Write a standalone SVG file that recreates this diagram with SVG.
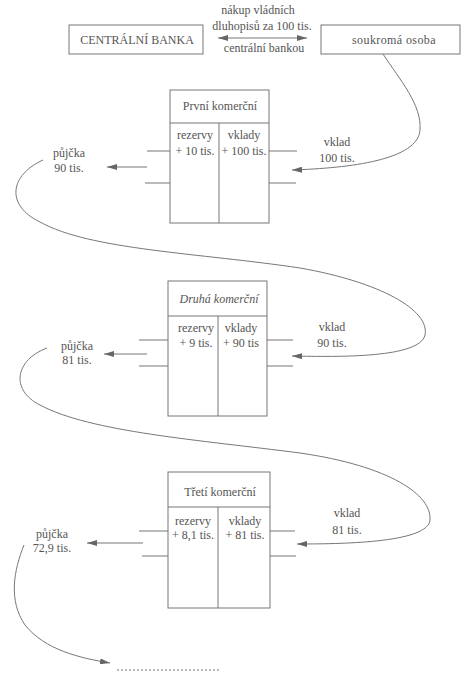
<svg xmlns="http://www.w3.org/2000/svg" width="470" height="679" viewBox="0 0 470 679" font-family="'Liberation Serif', 'DejaVu Serif', serif">
<style>
text{font-family:'Liberation Serif','DejaVu Serif',serif;font-size:12px;fill:#555;text-anchor:middle}
.box{fill:none;stroke:#777;stroke-width:1}
.ln{fill:none;stroke:#777;stroke-width:1}
.it{font-style:italic}
</style>
<defs>
<marker id="ah" viewBox="0 0 10 6" refX="10" refY="3" markerWidth="10" markerHeight="6" orient="auto" markerUnits="userSpaceOnUse">
<path d="M0,0 L10,3 L0,6 Z" fill="#666"/>
</marker>
<marker id="ahs" viewBox="0 0 10 6" refX="0" refY="3" markerWidth="10" markerHeight="6" orient="auto" markerUnits="userSpaceOnUse">
<path d="M10,0 L0,3 L10,6 Z" fill="#666"/>
</marker>
</defs>
<rect width="470" height="679" fill="#fff"/>

<g id="centralni-banka">
<rect class="box" x="69" y="25" width="134" height="29"/>
<text x="137" y="44">CENTRÁLNÍ BANKA</text>
</g>
<g id="soukroma-osoba">
<rect class="box" x="321" y="25" width="139" height="29"/>
<text x="394" y="44" letter-spacing="0.4">soukromá osoba</text>
</g>

<g id="prvni">
<rect class="box" x="170" y="90" width="99" height="133"/>
<line class="ln" x1="170" y1="123" x2="269" y2="123"/>
<line class="ln" x1="219" y1="123" x2="219" y2="223"/>
<text x="220" y="110">První komerční</text>
<text x="195" y="139">rezervy</text>
<text x="195" y="155">+ 10 tis.</text>
<text x="244" y="139">vklady</text>
<text x="244" y="155">+ 100 tis.</text>
</g>
<g id="druha">
<rect class="box" x="168" y="281" width="99" height="135"/>
<line class="ln" x1="168" y1="316" x2="267" y2="316"/>
<line class="ln" x1="218" y1="316" x2="218" y2="416"/>
<text class="it" x="219" y="303">Druhá komerční</text>
<text x="196" y="332">rezervy</text>
<text x="196" y="347">+ 9 tis.</text>
<text x="241" y="332">vklady</text>
<text x="241" y="347">+ 90 tis</text>
</g>
<g id="treti">
<rect class="box" x="168" y="472" width="102" height="136"/>
<line class="ln" x1="168" y1="507" x2="270" y2="507"/>
<line class="ln" x1="218" y1="507" x2="218" y2="608"/>
<text x="220" y="496">Třetí komerční</text>
<text x="193" y="525">rezervy</text>
<text x="193" y="539">+ 8,1 tis.</text>
<text x="245" y="525">vklady</text>
<text x="245" y="539">+ 81 tis.</text>
</g>

<g id="labels">
<text x="258" y="14">nákup vládních</text>
<text x="262" y="30">dluhopisů za 100 tis.</text>
<text x="264" y="52">centrální bankou</text>
<text x="337" y="146">vklad</text>
<text x="337" y="162">100 tis.</text>
<text x="69" y="157">půjčka</text>
<text x="69" y="172">90 tis.</text>
<text x="332" y="331">vklad</text>
<text x="332" y="347">90 tis.</text>
<text x="77" y="350">půjčka</text>
<text x="77" y="364">81 tis.</text>
<text x="347" y="517">vklad</text>
<text x="347" y="534">81 tis.</text>
<text x="52" y="538">půjčka</text>
<text x="52" y="552">72,9 tis.</text>
</g>

<g id="connectors">
<line class="ln" x1="218" y1="38" x2="307" y2="38" marker-start="url(#ahs)" marker-end="url(#ah)"/>
<line class="ln" x1="147" y1="151" x2="170" y2="151"/>
<line class="ln" x1="145" y1="183" x2="170" y2="183"/>
<line class="ln" x1="269" y1="151" x2="297" y2="151"/>
<line class="ln" x1="269" y1="183" x2="296" y2="183"/>
<line class="ln" x1="147" y1="167" x2="107" y2="167" marker-end="url(#ah)"/>
<line class="ln" x1="139" y1="340" x2="168" y2="340"/>
<line class="ln" x1="139" y1="366" x2="168" y2="366"/>
<line class="ln" x1="267" y1="340" x2="293" y2="340"/>
<line class="ln" x1="267" y1="366" x2="293" y2="366"/>
<line class="ln" x1="147" y1="354" x2="104" y2="354" marker-end="url(#ah)"/>
<line class="ln" x1="139" y1="531" x2="168" y2="531"/>
<line class="ln" x1="142" y1="556" x2="168" y2="556"/>
<line class="ln" x1="270" y1="531" x2="295" y2="531"/>
<line class="ln" x1="270" y1="556" x2="296" y2="556"/>
<line class="ln" x1="143" y1="543" x2="87" y2="543" marker-end="url(#ah)"/>
<path class="ln" d="M383,54 C400,80 422,105 420,130 C418,160 350,168 292,170" marker-end="url(#ah)"/>
<path class="ln" d="M43,160 C10,175 5,205 40,222 C90,250 200,253 300,268 C380,282 430,310 425,335 C420,358 340,357 292,356" marker-end="url(#ah)"/>
<path class="ln" d="M47,348 C15,360 10,390 40,405 C90,432 200,440 300,453 C390,466 432,495 430,520 C428,542 350,544 297,544" marker-end="url(#ah)"/>
<path class="ln" d="M24,545 C14,570 8,600 25,625 C45,650 80,658 110,663" marker-end="url(#ah)"/>
<line class="ln" x1="117" y1="670" x2="220" y2="670" stroke-dasharray="2,2"/>
</g>
</svg>
